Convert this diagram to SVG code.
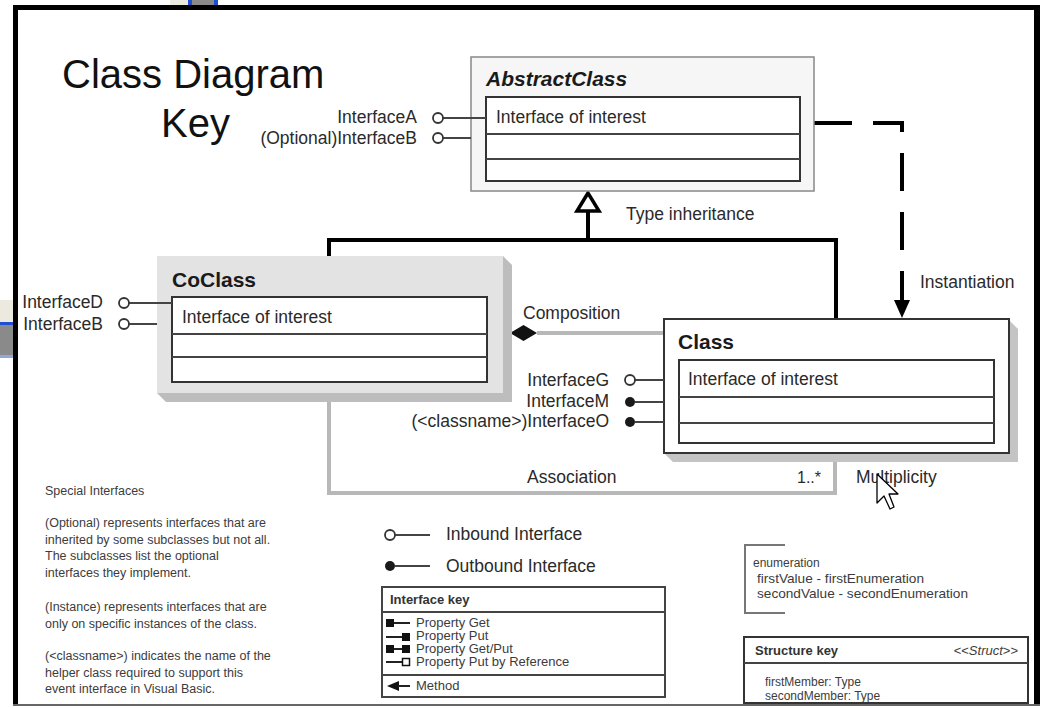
<svg xmlns="http://www.w3.org/2000/svg" width="1050" height="708" viewBox="0 0 1050 708">
<defs>
<style>
text{font-family:"Liberation Sans",Arial,sans-serif;fill:#2a2a2a}
.lbl{font-size:17.5px}
.ttl{font-size:21px;font-weight:bold;fill:#1a1a1a}
.sm{font-size:12.5px;fill:#3c3c3c}
.key{font-size:13px;fill:#3c3c3c}
.keyb{font-size:13px;font-weight:bold;fill:#333}
.inner{fill:#fff;stroke:#333;stroke-width:2}
.div{stroke:#444;stroke-width:2}
.ifl{stroke:#444;stroke-width:2;fill:none}
.oc{fill:#fff;stroke:#333;stroke-width:1.8}
.fc{fill:#1a1a1a}
.end{text-anchor:end}
.gray{stroke:#b8b8b8;stroke-width:4;fill:none}
</style>
</defs>
<rect x="0" y="0" width="1050" height="708" fill="#fff"/>
<g id="screen-artifacts">
<rect x="170" y="0" width="18" height="5" fill="#ece9df"/>
<rect x="188" y="0" width="4" height="5" fill="#1f4fd0"/>
<rect x="192" y="0" width="22" height="5" fill="#8a8a8a"/>
<rect x="214" y="0" width="4" height="5" fill="#1f4fd0"/>
<rect x="0" y="300" width="13" height="22" fill="#ece9df"/>
<rect x="0" y="322" width="13" height="3" fill="#1f4fd0"/>
<rect x="0" y="325" width="13" height="30" fill="#8a8a8a"/>
<rect x="0" y="355" width="13" height="3" fill="#8fa8d8"/>
</g>
<g id="frame">
<rect x="13" y="5" width="1027" height="5" fill="#000"/>
<rect x="13" y="5" width="5" height="701" fill="#000"/>
<rect x="1034" y="5" width="6" height="701" fill="#000"/>
<rect x="13" y="704" width="1027" height="2" fill="#666"/>
</g>
<g id="title">
<text x="62" y="88" font-size="40" style="fill:#111">Class Diagram</text>
<text x="161" y="137" font-size="40" style="fill:#111">Key</text>
</g>

<g id="connectors">
<path d="M329,256 V240 H836 V319" stroke="#000" stroke-width="4" fill="none"/>
<path d="M588,211 V240" stroke="#000" stroke-width="4"/>
<polygon points="588,193 577,211 599,211" fill="#fff" stroke="#000" stroke-width="3.5"/>
<path d="M814,123 H902 V302" stroke="#000" stroke-width="4" fill="none" stroke-dasharray="38 21"/>
<polygon points="902,318 894,300 910,300" fill="#000"/>
<path d="M537,333 H664" class="gray"/>
<polygon points="510,333 523.5,325 537,333 523.5,341" fill="#111"/>
<path d="M329,393 V493 H835 V462" class="gray"/>
<text x="626" y="220" class="lbl">Type inheritance</text>
<text x="920" y="288" class="lbl">Instantiation</text>
<text x="523" y="319" class="lbl">Composition</text>
<text x="527" y="483" class="lbl">Association</text>
<text x="797" y="483" font-size="16">1..*</text>
<text x="856" y="483" class="lbl">Multiplicity</text>
</g>

<g id="abstract-class">
<rect x="471" y="57" width="343" height="134" fill="#f6f6f6" stroke="#888" stroke-width="1.5"/>
<text x="486" y="86" class="ttl" font-style="italic">AbstractClass</text>
<rect x="486" y="97" width="314" height="84" class="inner"/>
<line x1="486" y1="134" x2="800" y2="134" class="div"/>
<line x1="486" y1="159" x2="800" y2="159" class="div"/>
<text x="496" y="123" class="lbl">Interface of interest</text>
<text x="417" y="123" class="lbl end">InterfaceA</text>
<text x="417" y="144" class="lbl end">(Optional)InterfaceB</text>
<line x1="443" y1="118" x2="486" y2="118" class="ifl"/>
<line x1="443" y1="138" x2="471" y2="138" class="ifl"/>
<circle cx="438" cy="118" r="5" class="oc"/>
<circle cx="438" cy="138" r="5" class="oc"/>
</g>

<g id="coclass">
<polygon points="503,256 512,265 512,402 166,402 157,393 503,393" fill="#bdbdbd"/>
<rect x="157" y="256" width="346" height="137" fill="#e3e3e3"/>
<text x="172" y="287" class="ttl">CoClass</text>
<rect x="172" y="297" width="315" height="85" class="inner"/>
<line x1="172" y1="334" x2="487" y2="334" class="div"/>
<line x1="172" y1="357" x2="487" y2="357" class="div"/>
<text x="182" y="323" class="lbl">Interface of interest</text>
<text x="103" y="308" class="lbl end">InterfaceD</text>
<text x="103" y="330" class="lbl end">InterfaceB</text>
<line x1="129" y1="303" x2="172" y2="303" class="ifl"/>
<line x1="129" y1="324" x2="157" y2="324" class="ifl"/>
<circle cx="124" cy="303" r="5" class="oc"/>
<circle cx="124" cy="324" r="5" class="oc"/>
</g>

<g id="class">
<polygon points="1009,320 1018,329 1018,462 673,462 664,453 1009,453" fill="#c4c4c4"/>
<rect x="664" y="319" width="345" height="134" fill="#fff" stroke="#333" stroke-width="2"/>
<text x="678" y="349" class="ttl">Class</text>
<rect x="679" y="360" width="315" height="83" class="inner"/>
<line x1="679" y1="397" x2="994" y2="397" class="div"/>
<line x1="679" y1="423" x2="994" y2="423" class="div"/>
<text x="688" y="385" class="lbl">Interface of interest</text>
<text x="609" y="386" class="lbl end">InterfaceG</text>
<text x="609" y="407" class="lbl end">InterfaceM</text>
<text x="609" y="427" class="lbl end">(&lt;classname&gt;)InterfaceO</text>
<line x1="635" y1="380" x2="664" y2="380" class="ifl"/>
<line x1="635" y1="402" x2="664" y2="402" class="ifl"/>
<line x1="635" y1="422" x2="664" y2="422" class="ifl"/>
<circle cx="630" cy="380" r="5" class="oc"/>
<circle cx="630" cy="402" r="5" class="fc"/>
<circle cx="630" cy="422" r="5" class="fc"/>
</g>

<g id="cursor">
<polygon points="877,474 877,503 884,496 890,509 894,507 889,494 898,494" fill="#fff" stroke="#000" stroke-width="1.3" stroke-linejoin="round"/>
</g>

<g id="special-interfaces">
<text x="45" y="495" class="sm">Special Interfaces</text>
<text x="45" y="527" class="sm">(Optional) represents interfaces that are</text>
<text x="45" y="543.5" class="sm">inherited by some subclasses but not all.</text>
<text x="45" y="560" class="sm">The subclasses list the optional</text>
<text x="45" y="576.5" class="sm">interfaces they implement.</text>
<text x="45" y="611" class="sm">(Instance) represents interfaces that are</text>
<text x="45" y="627.5" class="sm">only on specific instances of the class.</text>
<text x="45" y="660" class="sm">(&lt;classname&gt;) indicates the name of the</text>
<text x="45" y="676.5" class="sm">helper class required to support  this</text>
<text x="45" y="693" class="sm">event interface in Visual Basic.</text>
</g>

<g id="interface-legend">
<line x1="395" y1="535" x2="430" y2="535" class="ifl"/>
<circle cx="390" cy="535" r="5" class="oc"/>
<text x="446" y="540" class="lbl">Inbound Interface</text>
<line x1="395" y1="566" x2="430" y2="566" class="ifl"/>
<circle cx="390" cy="566" r="5" class="fc"/>
<text x="446" y="572" class="lbl">Outbound Interface</text>
</g>

<g id="interface-key">
<rect x="382" y="587" width="283" height="110" fill="#fff" stroke="#444" stroke-width="2"/>
<line x1="382" y1="612" x2="665" y2="612" class="div"/>
<line x1="382" y1="675" x2="665" y2="675" class="div"/>
<text x="390" y="604" class="keyb">Interface key</text>
<rect x="386" y="619" width="8" height="8" fill="#111"/>
<line x1="394" y1="623" x2="410" y2="623" stroke="#222" stroke-width="2"/>
<text x="416" y="627" class="key">Property Get</text>
<line x1="386" y1="637" x2="402" y2="637" stroke="#222" stroke-width="2"/>
<rect x="402" y="633" width="8" height="8" fill="#111"/>
<text x="416" y="640" class="key">Property Put</text>
<rect x="386" y="645" width="8" height="8" fill="#111"/>
<line x1="394" y1="649" x2="402" y2="649" stroke="#222" stroke-width="2"/>
<rect x="402" y="645" width="8" height="8" fill="#111"/>
<text x="416" y="653" class="key">Property Get/Put</text>
<line x1="386" y1="662" x2="402" y2="662" stroke="#222" stroke-width="2"/>
<rect x="402.5" y="658.5" width="7" height="7" fill="#fff" stroke="#111" stroke-width="1.5"/>
<text x="416" y="666" class="key">Property Put by Reference</text>
<polygon points="387,686 399,681 399,691" fill="#111"/>
<line x1="398" y1="686" x2="410" y2="686" stroke="#222" stroke-width="2"/>
<text x="416" y="690" class="key">Method</text>
</g>

<g id="enumeration">
<path d="M785,545 H745 V613 H785" stroke="#777" stroke-width="2" fill="none"/>
<text x="753" y="567" font-size="12" style="fill:#3c3c3c">enumeration</text>
<text x="757" y="583" class="key" textLength="167" lengthAdjust="spacingAndGlyphs">firstValue - firstEnumeration</text>
<text x="757" y="598" class="key" textLength="211" lengthAdjust="spacingAndGlyphs">secondValue - secondEnumeration</text>
</g>

<g id="structure-key">
<rect x="744" y="637" width="284" height="66" fill="#fff"/>
<text x="765" y="685.5" font-size="12" style="fill:#3c3c3c">firstMember: Type</text>
<text x="765" y="699.5" font-size="12" style="fill:#3c3c3c">secondMember: Type</text>
<rect x="744" y="637" width="284" height="66" fill="none" stroke="#333" stroke-width="2"/>
<line x1="744" y1="663" x2="1028" y2="663" class="div"/>
<text x="755" y="655" class="keyb">Structure key</text>
<text x="1018" y="655" class="key end">&lt;&lt;<tspan font-style="italic">Struct</tspan>&gt;&gt;</text>
</g>
</svg>
